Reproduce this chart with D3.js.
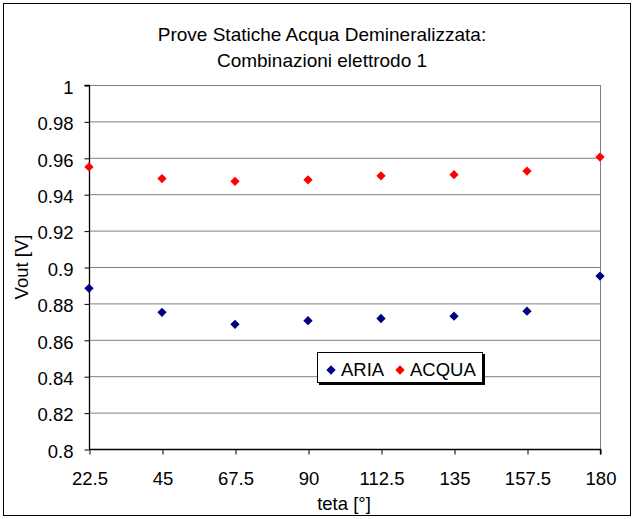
<!DOCTYPE html>
<html><head><meta charset="utf-8">
<script src="https://cdn.jsdelivr.net/npm/d3@7"></script>
<style>body{margin:0;background:#fff}svg{display:block;font-family:Arial,"Liberation Sans",sans-serif}</style>
</head><body>
<svg id="c" width="635" height="519"></svg>
<script>
const categories = [22.5, 45, 67.5, 90, 112.5, 135, 157.5, 180];
const aria  = [0.8883, 0.8751, 0.8685, 0.8705, 0.8717, 0.8730, 0.8757, 0.8950];
const acqua = [0.9550, 0.9486, 0.9471, 0.9479, 0.9501, 0.9507, 0.9527, 0.9604];
const yTicks = [0.8, 0.82, 0.84, 0.86, 0.88, 0.9, 0.92, 0.94, 0.96, 0.98, 1];
const seriesNames = ["ARIA", "ACQUA"];
const seriesColors = ["#000080", "#FF0000"];
const titleLines = ["Prove Statiche Acqua Demineralizzata:", "Combinazioni elettrodo 1"];

const FS = "18.5px";
const svg = d3.select("#c");
const L = 89, R = 600, T = 85, B = 449;
const x = d3.scalePoint().domain(categories).range([L, R]);
const y = d3.scaleLinear().domain([0.8, 1]).range([B, T]);

svg.append("rect").attr("x",3.5).attr("y",3.5).attr("width",627).attr("height",512)
  .attr("fill","#fff").attr("stroke","#000").attr("stroke-width",1);

// gridlines
svg.append("g").selectAll("line").data(yTicks.filter(d=>d>0.8)).join("line")
  .attr("x1",L).attr("x2",R).attr("y1",d=>y(d)+0.5).attr("y2",d=>y(d)+0.5)
  .attr("stroke","#808080").attr("stroke-width",1);
// right border
svg.append("line").attr("x1",R+0.5).attr("x2",R+0.5).attr("y1",T).attr("y2",B)
  .attr("stroke","#808080");

// axes
const ya = d3.axisLeft(y).tickValues(yTicks).tickSize(5).tickPadding(11)
  .tickFormat(d=>d3.format("")(+d.toFixed(2)));
const gy = svg.append("g").attr("transform",`translate(${L+0.5},0.5)`).call(ya);
const xa = d3.axisBottom(x).tickSize(5).tickPadding(17).tickFormat(d=>String(d));
const gx = svg.append("g").attr("transform",`translate(0.5,${B+0.5})`).call(xa);
[gy,gx].forEach(g=>{
  g.select(".domain").attr("stroke","#000").attr("stroke-width",1.3);
  g.selectAll(".tick line").attr("stroke","#000");
  g.selectAll(".tick text").attr("fill","#000").style("font-size",FS);
});
gy.selectAll(".tick text").attr("dy","0.42em");
gy.select(".domain").attr("d",`M-5,${T}H0V${B}`);
gx.select(".domain").attr("d",`M${L},0H${R}V5`);

// title
svg.append("text").attr("x",322).attr("y",41).attr("text-anchor","middle")
  .style("font-size","19px").text(titleLines[0]);
svg.append("text").attr("x",322).attr("y",67).attr("text-anchor","middle")
  .style("font-size","19px").text(titleLines[1]);
// axis titles
svg.append("text").attr("transform","translate(28,267) rotate(-90)").attr("text-anchor","middle")
  .style("font-size",FS).text("Vout [V]");
svg.append("text").attr("x",344).attr("y",510).attr("text-anchor","middle")
  .style("font-size",FS).text("teta [°]");

// points
const diamond = d3.symbol().type(d3.symbolDiamond2).size(55);
[aria, acqua].forEach((vals,i)=>{
  svg.append("g").selectAll("path").data(vals).join("path")
    .attr("d",diamond)
    .attr("transform",(d,j)=>`translate(${x(categories[j])},${y(d)})`)
    .attr("fill",seriesColors[i]);
});

// legend
const lg = svg.append("g");
lg.append("rect").attr("x",319).attr("y",354).attr("width",166).attr("height",31).attr("fill","#000");
lg.append("rect").attr("x",317.5).attr("y",352.5).attr("width",165).attr("height",30)
  .attr("fill","#fff").attr("stroke","#000");
const items = [{x:331, tx:341}, {x:400, tx:410}];
seriesNames.forEach((n,i)=>{
  lg.append("path").attr("d",diamond).attr("transform",`translate(${items[i].x},370)`).attr("fill",seriesColors[i]);
  lg.append("text").attr("x",items[i].tx).attr("y",376).style("font-size",FS).text(n);
});
</script>
</body></html>
